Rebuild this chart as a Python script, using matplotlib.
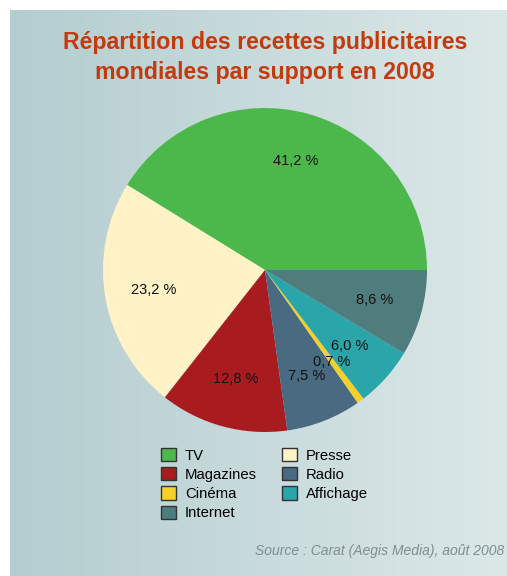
import numpy as np
import matplotlib.pyplot as plt
from matplotlib.patches import Patch

plt.rcParams['font.family'] = ['Liberation Sans', 'DejaVu Sans']

# data
labels = ["TV", "Presse", "Magazines", "Radio", "Cinéma", "Affichage", "Internet"]
values = [41.2, 23.2, 12.8, 7.5, 0.7, 6.0, 8.6]
colors = ["#4cb84c", "#fff2c6", "#a81c20", "#4a6a82", "#f5d02a", "#2aa6aa", "#4f7c7c"]

title = "Répartition des recettes publicitaires\nmondiales par support en 2008"
source = "Source : Carat (Aegis Media), août 2008"

W, H = 507, 576
fig = plt.figure(figsize=(W / 100, H / 100), dpi=100)
fig.patch.set_facecolor("white")

# background panel with horizontal gradient
bg = fig.add_axes([10 / W, 0, 1 - 10 / W, 1 - 10 / H])
left = np.array([180, 205, 208]) / 255
right = np.array([220, 232, 232]) / 255
t = np.linspace(0, 1, 256)[None, :, None]
grad = left + (right - left) * t
bg.imshow(grad, aspect="auto", extent=[0, 1, 0, 1])
bg.set_axis_off()

fig.text(265 / W, 1 - 57.5 / H, title, ha="center", va="center",
         fontsize=16.7, fontweight="bold", color="#c53a0c", linespacing=1.38)

# pie
cx, cy, r = 265, 270, 162
ax = fig.add_axes([(cx - r) / W, (H - cy - r) / H, 2 * r / W, 2 * r / H])
ax.pie(values, colors=colors, startangle=0, counterclock=True,
       autopct=lambda p: f"{p:.1f} %".replace(".", ","), pctdistance=0.7,
       textprops=dict(fontsize=10.5, color="#111111"))
ax.set_xlim(-1, 1)
ax.set_ylim(-1, 1)
ax.set_aspect("equal")
ax.set_axis_off()

# legend, row-major order like the original
order = [0, 2, 4, 6, 1, 3, 5]
handles = [Patch(facecolor=colors[i], edgecolor="#333333", linewidth=1) for i in order]
fig.legend(handles, [labels[i] for i in order], ncol=2, loc="upper left",
           bbox_to_anchor=(158 / W, 1 - 445 / H), frameon=False,
           fontsize=10.7, handlelength=1.0, handleheight=1.0,
           handletextpad=0.6, columnspacing=1.7, labelspacing=0.3,
           borderaxespad=0, borderpad=0.2)

fig.text(504 / W, 1 - 551 / H, source, ha="right", va="center",
         fontsize=10, style="italic", color="#7e8e92")

fig.savefig("out.png", dpi=100)
